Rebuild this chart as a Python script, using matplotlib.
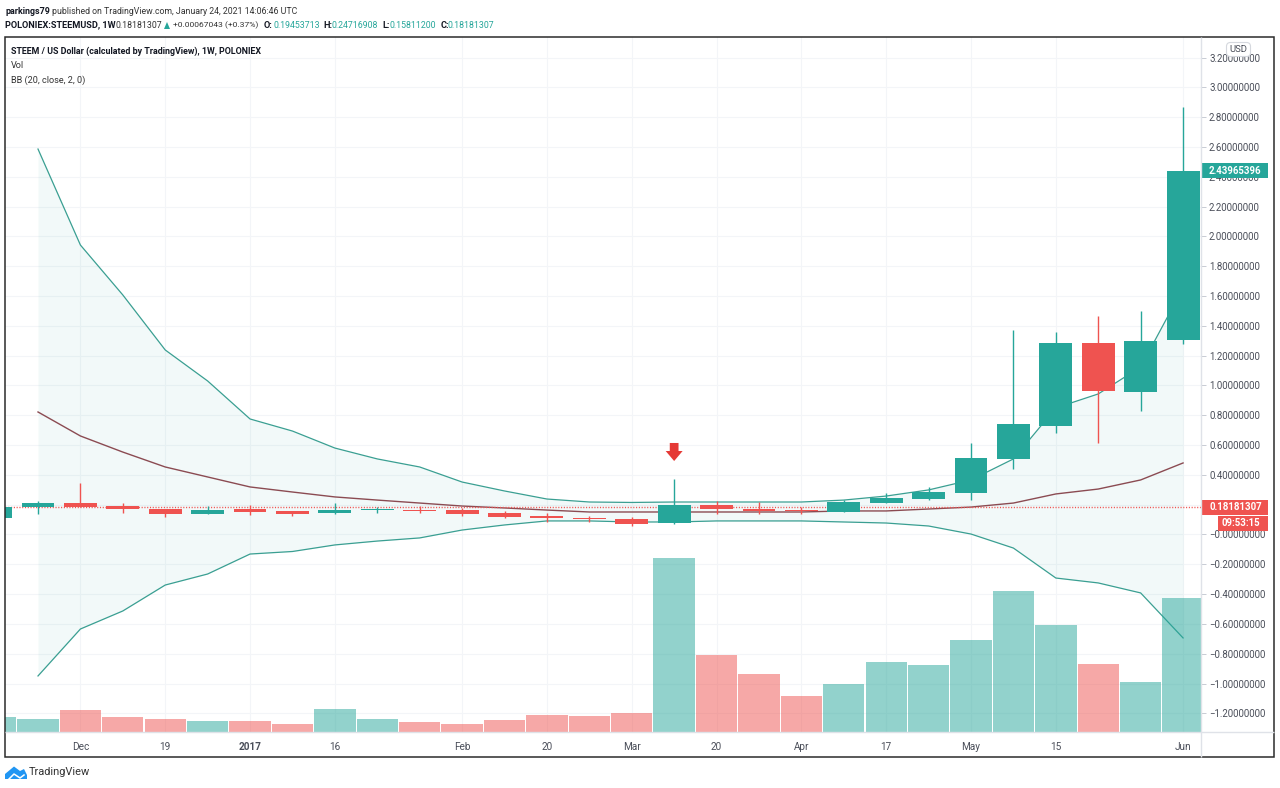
import matplotlib
matplotlib.use("Agg")
import matplotlib.pyplot as plt
from matplotlib.patches import Rectangle, FancyBboxPatch, Polygon

plt.rcParams['font.family'] = ['Roboto', 'DejaVu Sans']

# ---- data (week index -1 .. 27) ----
weeks = list(range(-1, 28))
opens = [.114, .184, .211, .191, .171, .138, .171, .158, .141, .162, .164, .164, .144, .124, .114, .104,
         .074, .198, .168, .164, .154, .211, .238, .280, .509, .728, 1.288, .958, 1.308]
highs = [.190, .225, .346, .211, .171, .191, .198, .158, .211, .184, .191, .178, .158, .144, .124, .117,
         .369, .225, .218, .184, .231, .278, .319, .614, 1.374, 1.359, 1.466, 1.499, 2.868]
lows = [.110, .138, .184, .144, .117, .138, .131, .124, .138, .144, .144, .124, .111, .084, .084, .057,
        .070, .138, .138, .138, .151, .211, .231, .231, .439, .681, .614, .829, 1.278]
closes = [.184, .211, .184, .171, .138, .164, .151, .138, .164, .169, .157, .138, .117, .111, .104, .070,
          .198, .171, .158, .158, .218, .245, .285, .515, .741, 1.288, .963, 1.295, 2.4397]
volumes = [15, 13, 22, 15, 13, 11, 11, 8, 23, 13, 10, 8, 12, 17, 16, 19,
           174, 77, 58, 36, 48, 70, 67, 92, 141, 107, 68, 50, 134]

band_weeks = list(range(0, 28))
bb_upper = [2.586, 1.942, 1.607, 1.238, 1.030, .775, .694, .580, .507, .453, .352, .292, .238, .218,
            .215, .218, .218, .218, .218, .231, .258, .299, .366, .507, .849, .943, 1.124, 1.654]
bb_middle = [.822, .661, .553, .453, .386, .319, .285, .252, .231, .211, .191, .178, .164, .151,
             .151, .151, .151, .151, .151, .158, .158, .171, .184, .211, .272, .305, .366, .480]
bb_lower = [-.949, -.634, -.513, -.339, -.265, -.131, -.114, -.070, -.044, -.023, .030, .064, .091, .091,
            .084, .084, .091, .091, .091, .084, .077, .057, .003, -.091, -.292, -.325, -.392, -.694]

last_price = 0.18181307
price_ticks = [-1.2, -1.0, -0.8, -0.6, -0.4, -0.2, 0, 0.2, 0.4, 0.6, 0.8, 1.0, 1.2, 1.4, 1.6, 1.8,
               2.0, 2.2, 2.4, 2.6, 2.8, 3.0, 3.2]
time_ticks = [1, 3, 5, 7, 10, 12, 14, 16, 18, 20, 22, 24, 27]
time_labels = ['Dec', '19', '2017', '16', 'Feb', '20', 'Mar', '20', 'Apr', '17', 'May', '15', 'Jun']

UP = '#26a69a'
DOWN = '#ef5350'
GRID = '#f3f5f8'
TXT = '#4a4e59'
W, H = 1280, 788
L, R, T, B = 5, 1201, 36.5, 732

fig = plt.figure(figsize=(W / 100, H / 100), dpi=100, facecolor='white')
ax = fig.add_axes([L / W, 1 - B / H, (R - L) / W, (B - T) / H])
ax.set_xlim((L - 38) / 42.41, (R - 38) / 42.41)
ax.set_ylim(-1.325, 3.341)
for s in ax.spines.values():
    s.set_visible(False)
ax.grid(True, color=GRID, lw=0.8, zorder=0)
ax.set_axisbelow(True)

# Bollinger bands
ax.fill_between(band_weeks, bb_lower, bb_upper, color=UP, alpha=0.06, lw=0, zorder=1)
ax.plot(band_weeks, bb_upper, color='#3a9f92', lw=0.9, zorder=2)
ax.plot(band_weeks, bb_lower, color='#3a9f92', lw=0.9, zorder=2)
ax.plot(band_weeks, bb_middle, color='#8b4b52', lw=1.0, zorder=2)

# last price line
ax.axhline(last_price, color=DOWN, lw=1.0, ls=(0, (0.8, 1.2)), zorder=2.5)

# candles
for w, o, h, l, c in zip(weeks, opens, highs, lows, closes):
    col = UP if c >= o else DOWN
    ax.vlines(w, l, h, color=col, lw=1.0, zorder=3)
    ax.bar(w, abs(c - o), bottom=min(o, c), width=0.775, color=col, lw=0, zorder=4)

# signal arrow
ax.annotate('', xy=(15, 0.493), xytext=(15, 0.614),
            arrowprops=dict(width=6.3, headwidth=12.2, headlength=7.2, shrink=0,
                            facecolor='#e53935', edgecolor='none', lw=0), zorder=6)

# volume
vax = ax.twinx()
vax.set_ylim(0, B - T)
vax.set_yticks([])
vax.patch.set_visible(False)
for s in vax.spines.values():
    s.set_visible(False)
vax.bar(weeks, volumes, width=0.975, lw=0, alpha=0.5,
        color=[UP if c >= o else DOWN for o, c in zip(opens, closes)])
vax.set_zorder(ax.get_zorder() + 1)

# axis labels (after twinx, which moves the price ticks to the left)
ax.yaxis.tick_right()
ax.set_yticks(price_ticks)
ax.set_yticklabels([('\u2212' if v <= 0 else '') + f"{abs(v):.8f}" for v in price_ticks],
                   fontsize=6.9, color=TXT)
ax.tick_params(axis='y', length=3.6, width=0.7, color='#c8ccd4', pad=2.2)
ax.set_xticks(time_ticks)
ax.set_xticklabels(time_labels, fontsize=7.2, color=TXT)
for lab, t in zip(ax.get_xticklabels(), time_labels):
    if t == '2017':
        lab.set_fontweight('bold')
ax.tick_params(axis='x', length=0, pad=7)

# ---- overlay in pixel coordinates ----
ov = fig.add_axes([0, 0, 1, 1], zorder=10)
ov.set_xlim(0, W)
ov.set_ylim(H, 0)
ov.axis('off')


def put(x, y, s, size=6.3, color='#131722', weight='normal', ha='left'):
    return ov.text(x, y, s, fontsize=size, color=color, fontweight=weight, ha=ha, va='center')


ov.add_patch(Rectangle((L, T), 1274 - L, 757 - T, fill=False, ec='#2b2b2b', lw=1.1))
ov.plot([R, R], [T, 757], color='#dfe2e8', lw=1, solid_capstyle='butt')
ov.plot([L, 1274], [B, B], color='#dfe2e8', lw=1, solid_capstyle='butt')

# header
put(5, 11, 'parkings79', weight='bold', size=6.4)
put(52, 11, 'published on TradingView.com, January 24, 2021 14:06:46 UTC', color='#333333')
put(5, 25, 'POLONIEX:STEEMUSD, 1W', weight='bold', size=6.6)
put(115, 25, '0.18181307', color='#333333')
ov.add_patch(Polygon([(164, 29), (170, 29), (167, 22)], color=UP, lw=0))
put(173, 25, '+0.00067043 (+0.37%)', color='#333333', size=6.1)
for x_lab, lab, x_val, val in [(264, 'O:', 273, '0.19453713'), (323, 'H:', 332, '0.24716908'),
                               (382, 'L:', 390, '0.15811200'), (441, 'C:', 448, '0.18181307')]:
    put(x_lab, 25, lab, weight='bold', size=6.6)
    put(x_val, 25, val, color=UP)

# legend
put(11, 51, 'STEEM / US Dollar (calculated by TradingView), 1W, POLONIEX', weight='bold', size=6.4)
put(11, 65, 'Vol', color='#333333', size=6.6)
put(11, 80, 'BB (20, close, 2, 0)', color='#333333', size=6.6)

# price labels
ov.add_patch(Rectangle((R, 163), 1268 - R, 15, color=UP, lw=0))
put(1209, 170.5, '2.43965396', size=6.9, color='white', weight='bold')
ov.add_patch(Rectangle((R, 499.5), 1268 - R, 15, color=DOWN, lw=0))
put(1209, 507, '0.18181307', size=6.9, color='white', weight='bold')
ov.add_patch(Rectangle((1218, 515.5), 50, 15, color=DOWN, lw=0))
put(1222, 523, '09:53:15', size=6.9, color='white', weight='bold')
ov.add_patch(FancyBboxPatch((1228, 44), 21, 11, boxstyle='round,pad=1.5,rounding_size=4',
                            fc='white', ec='#d5d8de', lw=0.8))
put(1238.5, 49.5, 'USD', size=6.8, color=TXT, ha='center')

# TradingView logo
ov.add_patch(Polygon([(5, 778), (5, 774), (14, 766.5), (20, 771), (24, 769), (27, 775), (27, 779), (5, 779)],
                     color='#2196f3', lw=0))
ov.plot([9, 14, 20, 24], [779, 774, 778, 775], color='white', lw=1.1)
put(29, 772, 'TradingView', size=7.9, color='#333333')

fig.savefig('out.png', dpi=100)
